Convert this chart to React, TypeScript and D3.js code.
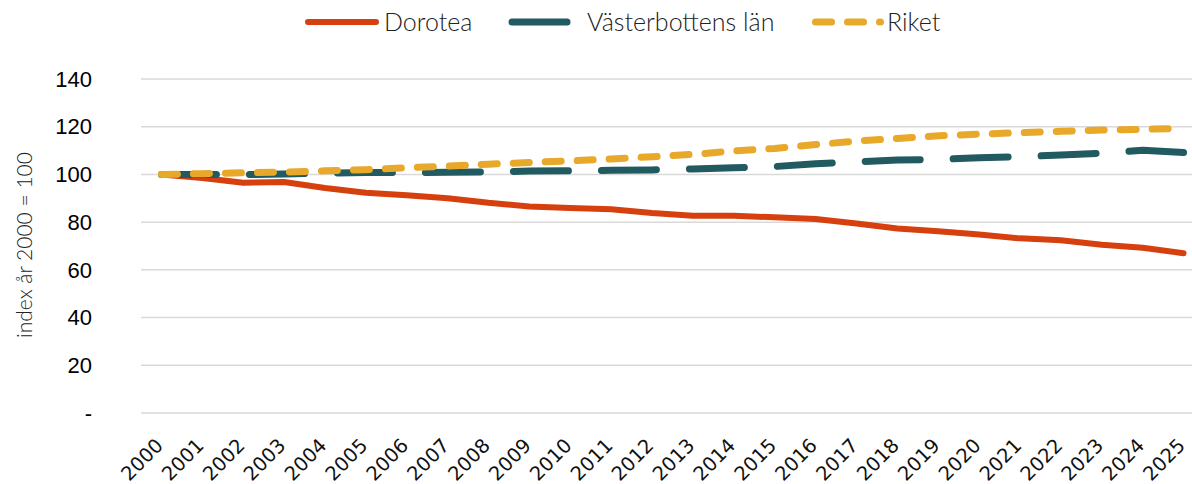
import React from 'react';
import * as d3 from 'd3';

const years = d3.range(2000, 2026).map(String);
const dorotea = [100, 98.5, 96.5, 96.8, 94.3, 92.3, 91.3, 90, 88.1, 86.6, 85.9, 85.4, 83.8, 82.7, 82.7, 82, 81.3, 79.4, 77.3, 76.2, 74.8, 73.2, 72.4, 70.5, 69.3, 67];
const vasterbotten = [100, 100, 99.9, 100.2, 100.5, 100.8, 100.8, 100.9, 101, 101.4, 101.5, 101.7, 101.9, 102.3, 102.8, 103.3, 104.5, 105.3, 106, 106.3, 107, 107.5, 108.1, 108.9, 110.1, 109.2];
const riket = [100, 100.3, 100.7, 101, 101.5, 102, 102.8, 103.5, 104.3, 105, 105.7, 106.5, 107.4, 108.4, 109.8, 110.9, 112.5, 114, 115.1, 116.2, 116.9, 117.5, 118.1, 118.6, 118.9, 119.3];
const yTicks = [0, 20, 40, 60, 80, 100, 120, 140];

const series = [
  { name: 'Dorotea', values: dorotea, color: '#D6400E', dash: null, width: 6 },
  { name: 'Västerbottens län', values: vasterbotten, color: '#215A60', dash: '55 33', width: 7 },
  { name: 'Riket', values: riket, color: '#E8A82A', dash: '16 16', width: 7 },
];

const legendItems = [
  { x1: 308, x2: 376, tx: 384 },
  { x1: 512, x2: 568, tx: 587 },
  { x1: 815.5, x2: 880.5, tx: 887 },
];

const W = 1192;
const H = 484;

export default function App() {
  const x = d3.scaleBand().domain(years).range([141, 1204]).padding(0);
  const y = d3.scaleLinear().domain([0, 140]).range([413, 79]);
  const cx = (d: string) => (x(d) as number) + x.bandwidth() / 2;

  const line = d3
    .line<number>()
    .x((_, i) => cx(years[i]))
    .y((d) => y(d));

  return (
    <svg width={W} height={H} style={{ position: 'absolute', left: 0, top: 0, background: '#fff' }}>
      {/* grid */}
      {yTicks.map((t) => (
        <g key={t}>
          <line x1={141} x2={W} y1={y(t)} y2={y(t)} stroke="#d9d9d9" strokeWidth={1.5} />
          <text
            x={92}
            y={y(t)}
            dy="0.35em"
            textAnchor="end"
            fontFamily="'Liberation Sans', Arial, sans-serif"
            fontSize={22}
            fill="#000"
          >
            {t === 0 ? '-' : t}
          </text>
        </g>
      ))}

      {/* y title */}
      <text
        transform="translate(32,245) rotate(-90)"
        textAnchor="middle"
        fontFamily="Lato, sans-serif"
        fontWeight={300}
        fontSize={21}
        fill="#222"
      >
        index år 2000 = 100
      </text>

      {/* x labels */}
      {years.map((yr) => (
        <text
          key={yr}
          transform={`translate(${cx(yr) - 7},${437}) rotate(-45)`}
          textAnchor="end"
          dy="0.71em"
          fontFamily="'DejaVu Sans', sans-serif"
          fontSize={19.5}
          fill="#111"
        >
          {yr}
        </text>
      ))}

      {/* lines */}
      {series.map((s) => (
        <path
          key={s.name}
          d={line(s.values) || ''}
          fill="none"
          stroke={s.color}
          strokeWidth={s.width}
          strokeDasharray={s.dash || undefined}
          strokeLinecap="round"
          strokeLinejoin="round"
        />
      ))}

      {/* legend */}
      {series.map((s, i) => (
        <g key={s.name}>
          <line
            x1={legendItems[i].x1}
            x2={legendItems[i].x2}
            y1={22}
            y2={22}
            stroke={s.color}
            strokeWidth={s.width}
            strokeDasharray={s.dash || undefined}
            strokeLinecap="round"
          />
          <text
            x={legendItems[i].tx}
            y={22}
            dy="0.35em"
            fontFamily="Lato, sans-serif"
            fontWeight={300}
            fontSize={25}
            fill="#222"
          >
            {s.name}
          </text>
        </g>
      ))}
    </svg>
  );
}
